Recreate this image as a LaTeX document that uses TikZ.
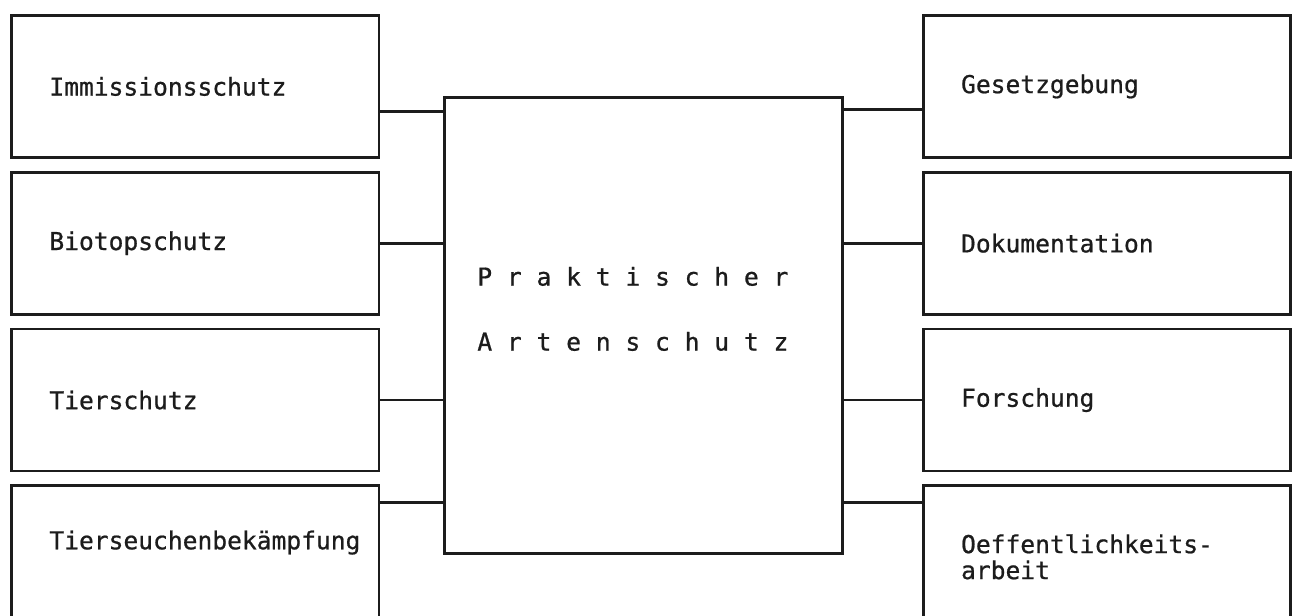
\documentclass[tikz,border=0pt]{standalone}
\usepackage{fontspec}
\usepackage{xcolor}
\usepackage{tikz}
\usetikzlibrary{positioning}
\newfontfamily\typewriter[FakeBold=0.8]{DejaVu Sans Mono}
\definecolor{ink}{RGB}{28,28,28}
\tikzset{
  field/.style={rectangle,draw=ink,line width=1.6pt,minimum width=7.35cm,minimum height=2.84cm,
                inner xsep=0.76cm,text width=5.83cm,align=left,text=ink,
                font=\typewriter\fontsize{14}{14.8}\selectfont},
  core/.style={rectangle,draw=ink,line width=1.6pt,minimum width=7.96cm,minimum height=9.12cm},
  title/.style={inner sep=0pt,align=left,text=ink,font=\typewriter\fontsize{14}{37}\selectfont},
  link/.style={draw=ink,line width=1.6pt},
}

\begin{document}
\begin{tikzpicture}[node distance=0.24cm]
  \useasboundingbox (0,0) rectangle (25.9,-12.3);
  \node[field,anchor=north west] (imm) at (0.2,-0.28) {Immissionsschutz};
  \node[field,below=of imm] (bio) {Biotopschutz};
  \node[field,below=of bio] (tier) {Tierschutz};
  \node[field,below=of tier] (seuch) {\mbox{Tierseuchenbekämpfung}\\\strut};
  \node[field,anchor=north east] (gesetz) at (25.84,-0.28) {Gesetzgebung};
  \node[field,below=of gesetz] (doku) {Dokumentation};
  \node[field,below=of doku] (forsch) {Forschung};
  \node[field,below=of forsch] (oeff) {Oeffentlichkeits-\\arbeit};
  \node[core,anchor=north west] (kern) at (8.86,-1.92) {};
  \node[title,anchor=west] (titel) at ([xshift=0.68cm,yshift=0.33cm]kern.west) {P r a k t i s c h e r\\A r t e n s c h u t z};
  \draw[link] ([yshift=-0.5cm]imm.east) -- ([yshift=-0.5cm]imm.east -| kern.west);
  \draw[link] (bio.east) -- (bio.east -| kern.west);
  \draw[link] (tier.east) -- (tier.east -| kern.west);
  \draw[link] ([yshift=1.08cm]seuch.east) -- ([yshift=1.08cm]seuch.east -| kern.west);
  \draw[link] ([yshift=-0.46cm]gesetz.west) -- ([yshift=-0.46cm]gesetz.west -| kern.east);
  \draw[link] (doku.west) -- (doku.west -| kern.east);
  \draw[link] (forsch.west) -- (forsch.west -| kern.east);
  \draw[link] ([yshift=1.08cm]oeff.west) -- ([yshift=1.08cm]oeff.west -| kern.east);
\end{tikzpicture}
\end{document}
